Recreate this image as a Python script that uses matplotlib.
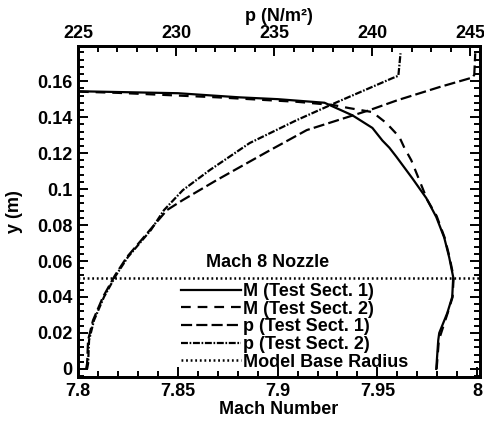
import matplotlib
matplotlib.use("Agg")
import matplotlib.pyplot as plt
from matplotlib.ticker import FixedLocator, MultipleLocator

plt.rcParams['font.family'] = ['Liberation Sans', 'DejaVu Sans']
plt.rcParams['font.weight'] = 'bold'
plt.rcParams['axes.labelweight'] = 'bold'
plt.rcParams['font.size'] = 13
plt.rcParams['lines.scale_dashes'] = False

# Mach number profiles (y in m)
m1_y = [0.0, 0.008, 0.016, 0.020, 0.031, 0.040, 0.051, 0.062, 0.073, 0.0845,
        0.095, 0.106, 0.118, 0.123, 0.127, 0.134, 0.141, 0.148, 0.150, 0.151,
        0.1533, 0.1544, 0.155]
m1_M = [7.9795, 7.980, 7.9805, 7.981, 7.985, 7.9875, 7.988, 7.986, 7.9835, 7.9795,
        7.9745, 7.9675, 7.9595, 7.956, 7.9525, 7.9475, 7.9375, 7.9235, 7.900, 7.881,
        7.850, 7.800, 7.790]

m2_y = [0.0, 0.016, 0.031, 0.040, 0.051, 0.062, 0.073, 0.085, 0.094, 0.105,
        0.116, 0.123, 0.129, 0.1367, 0.1428, 0.145, 0.1467, 0.1485, 0.151, 0.1535,
        0.1545]
m2_M = [7.9797, 7.9808, 7.9852, 7.9877, 7.9882, 7.9862, 7.9837, 7.9797, 7.975, 7.971,
        7.967, 7.9635, 7.961, 7.9545, 7.9475, 7.936, 7.928, 7.910, 7.870, 7.820,
        7.790]

# static pressure profiles
p1_y = [0.0, 0.003, 0.016, 0.027, 0.040, 0.052, 0.0622, 0.0772, 0.0883, 0.0939,
        0.105, 0.1206, 0.1328, 0.1439, 0.1494, 0.1567, 0.162, 0.1635, 0.1755]
p1 = [225.41, 225.46, 225.51, 225.76, 226.27, 226.88, 227.49, 228.66, 229.53, 230.34,
      232.07, 234.62, 236.66, 239.86, 241.28, 243.42, 245.10, 245.20, 245.25]

p2_y = [0.0, 0.003, 0.016, 0.027, 0.040, 0.052, 0.0622, 0.0772, 0.0883, 0.0994,
        0.1106, 0.1256, 0.1383, 0.148, 0.1617, 0.163, 0.1755]
p2 = [225.46, 225.51, 225.56, 225.81, 226.32, 226.93, 227.54, 228.71, 229.38, 230.34,
      231.72, 233.75, 236.14, 238.13, 241.03, 241.33, 241.44]

base_radius = 0.0508

fig = plt.figure(figsize=(4.85, 4.21), dpi=100)
ax = fig.add_axes([0.161, 0.1045, 0.829, 0.786])
ax2 = ax.twiny()

h1, = ax.plot(m1_M, m1_y, color='black', lw=1.6, ls='-', label='M (Test Sect. 1)')
h2, = ax.plot(m2_M, m2_y, color='black', lw=1.6, dashes=(7, 5), label='M (Test Sect. 2)')
h3, = ax2.plot(p1, p1_y, color='black', lw=1.6, dashes=(8, 3), label='p (Test Sect. 1)')
h4, = ax2.plot(p2, p2_y, color='black', lw=1.6, dashes=(5, 1.2, 1.2, 1.2),
               label='p (Test Sect. 2)')
h5 = ax.axhline(base_radius, color='black', lw=1.8, dashes=(1.3, 2.0),
                label='Model Base Radius')

ax.set_xlim(7.8, 8.0015)
ax.set_ylim(-0.0045, 0.1795)
ax2.set_xlim(225, 245.5)

ax.xaxis.set_major_locator(FixedLocator([7.8, 7.85, 7.9, 7.95, 8.0]))
ax.set_xticklabels(['7.8', '7.85', '7.9', '7.95', '8'])
ax.xaxis.set_minor_locator(MultipleLocator(0.01))
ax.yaxis.set_major_locator(FixedLocator([0, 0.02, 0.04, 0.06, 0.08, 0.1, 0.12, 0.14, 0.16]))
ax.set_yticklabels(['0', '0.02', '0.04', '0.06', '0.08', '0.1', '0.12', '0.14', '0.16'])
ax.yaxis.set_minor_locator(MultipleLocator(0.004))
ax2.xaxis.set_major_locator(FixedLocator([225, 230, 235, 240, 245]))
ax2.xaxis.set_minor_locator(MultipleLocator(1))

ax.tick_params(which='both', direction='in', top=False, right=True, width=1.4)
ax.tick_params(which='major', length=7, pad=4)
ax.tick_params(which='minor', length=4)
ax.tick_params(axis='y', which='both', right=True)
ax2.tick_params(which='both', direction='in', width=1.4)
ax2.tick_params(which='major', length=7, pad=3)
ax2.tick_params(which='minor', length=4)

for a in (ax, ax2):
    for s in a.spines.values():
        s.set_linewidth(2)

ax.set_xlabel('Mach Number', labelpad=1)
ax.set_ylabel('y (m)')
ax.yaxis.set_label_coords(-0.138, 0.5)
ax2.set_xlabel('p (N/m²)', labelpad=3)

ax.text(7.895, 0.0592, 'Mach 8 Nozzle', ha='center', va='center')
leg = ax.legend(handles=[h1, h2, h3, h4, h5], frameon=False,
                loc='lower left', bbox_to_anchor=(0.257, 0.019), borderpad=0,
                handlelength=3.3, handletextpad=0.1, labelspacing=0.04,
                borderaxespad=0)

fig.savefig('out.png', dpi=100)
